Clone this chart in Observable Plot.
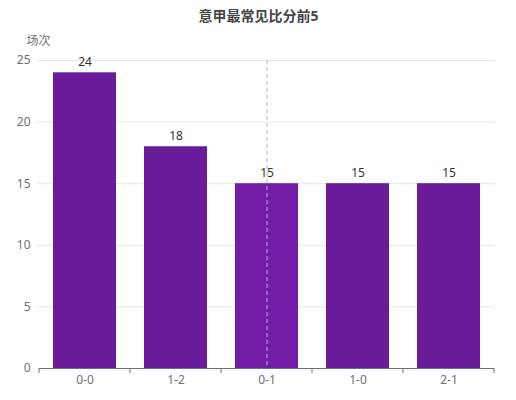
<!DOCTYPE html>
<html>
<head>
<meta charset="utf-8">
<script src="https://cdn.jsdelivr.net/npm/d3@7"></script>
<script src="https://cdn.jsdelivr.net/npm/@observablehq/plot@0.6"></script>
<style>
  html, body { margin: 0; padding: 0; background: #fff; }
  svg { font-family: "Noto Sans", "Noto Sans CJK SC", sans-serif; }
</style>
</head>
<body>
<div id="chart"></div>
<script>
const title = "意甲最常见比分前5";
const yLabel = "场次";
const scores = ["0-0", "1-2", "0-1", "1-0", "2-1"];
const counts = [24, 18, 15, 15, 15];
const yTicks = [0, 5, 10, 15, 20, 25];
const highlighted = "0-1";

const data = scores.map((s, i) => ({score: s, count: counts[i]}));

const W = 516, H = 400;
const margin = {top: 60, right: 21, bottom: 32, left: 37};
const barColor = "#6a1b9a";
const hoverColor = "#731ca8";
const axisColor = "#6e7079";
const fontStack = '"Noto Sans", "Noto Sans CJK SC", sans-serif';

function boundaryTicks(index, scales, values, dimensions) {
  const x = scales.x;
  const bw = typeof x.bandwidth === "function" ? x.bandwidth() : (scales.scales?.x?.bandwidth ?? 0);
  const n = scores.length;
  const centers = scores.map(s => x(s) + bw / 2);
  const step = (centers[n - 1] - centers[0]) / (n - 1);
  const y0 = dimensions.height - dimensions.marginBottom;
  const bounds = centers.map(c => c - step / 2).concat([centers[n - 1] + step / 2]);
  const g = d3.create("svg:g");
  g.selectAll("line.t").data(bounds).join("line")
    .attr("class", "t")
    .attr("x1", d => d).attr("x2", d => d)
    .attr("y1", y0).attr("y2", y0 + 5)
    .attr("stroke", axisColor).attr("stroke-width", 1);
  g.append("line")
    .attr("x1", bounds[0]).attr("x2", bounds[n])
    .attr("y1", y0 + 0.5).attr("y2", y0 + 0.5)
    .attr("stroke", axisColor).attr("stroke-width", 1);
  return g.node();
}

const chart = Plot.plot({
  width: W,
  height: H,
  marginTop: margin.top,
  marginRight: margin.right,
  marginBottom: margin.bottom,
  marginLeft: margin.left,
  style: {fontSize: "12px", fontFamily: fontStack, background: "#fff"},
  x: {domain: scores, paddingInner: 0.31, paddingOuter: 0.155},
  y: {domain: [0, 25], nice: false},
  marks: [
    Plot.gridY(yTicks.filter(t => t > 0), {stroke: "#e0e6f1", strokeOpacity: 1}),
    Plot.axisY({ticks: yTicks, tickSize: 0, tickPadding: 7, label: null, fill: axisColor, fontSize: 12}),
    Plot.axisX({tickSize: 0, tickPadding: 7, label: null, fill: axisColor, fontSize: 12}),
    Plot.barY(data, {x: "score", y: "count", fill: d => d.score === highlighted ? hoverColor : barColor}),
    Plot.ruleX([highlighted], {x: d => d, stroke: "#b0b5c2", strokeDasharray: "4,3", strokeWidth: 1}),
    Plot.text(data, {x: "score", y: "count", text: d => String(d.count), dy: -11, fill: "#333", fontSize: 12}),
    boundaryTicks,
    Plot.text([yLabel], {frameAnchor: "top-left", dx: 1, dy: -24, textAnchor: "middle", fill: axisColor, fontSize: 12}),
    Plot.text([title], {frameAnchor: "top", dx: -8, dy: -49, fill: "#464646", fontSize: 14, fontWeight: "bold"})
  ]
});
document.getElementById("chart").appendChild(chart);
</script>
</body>
</html>
